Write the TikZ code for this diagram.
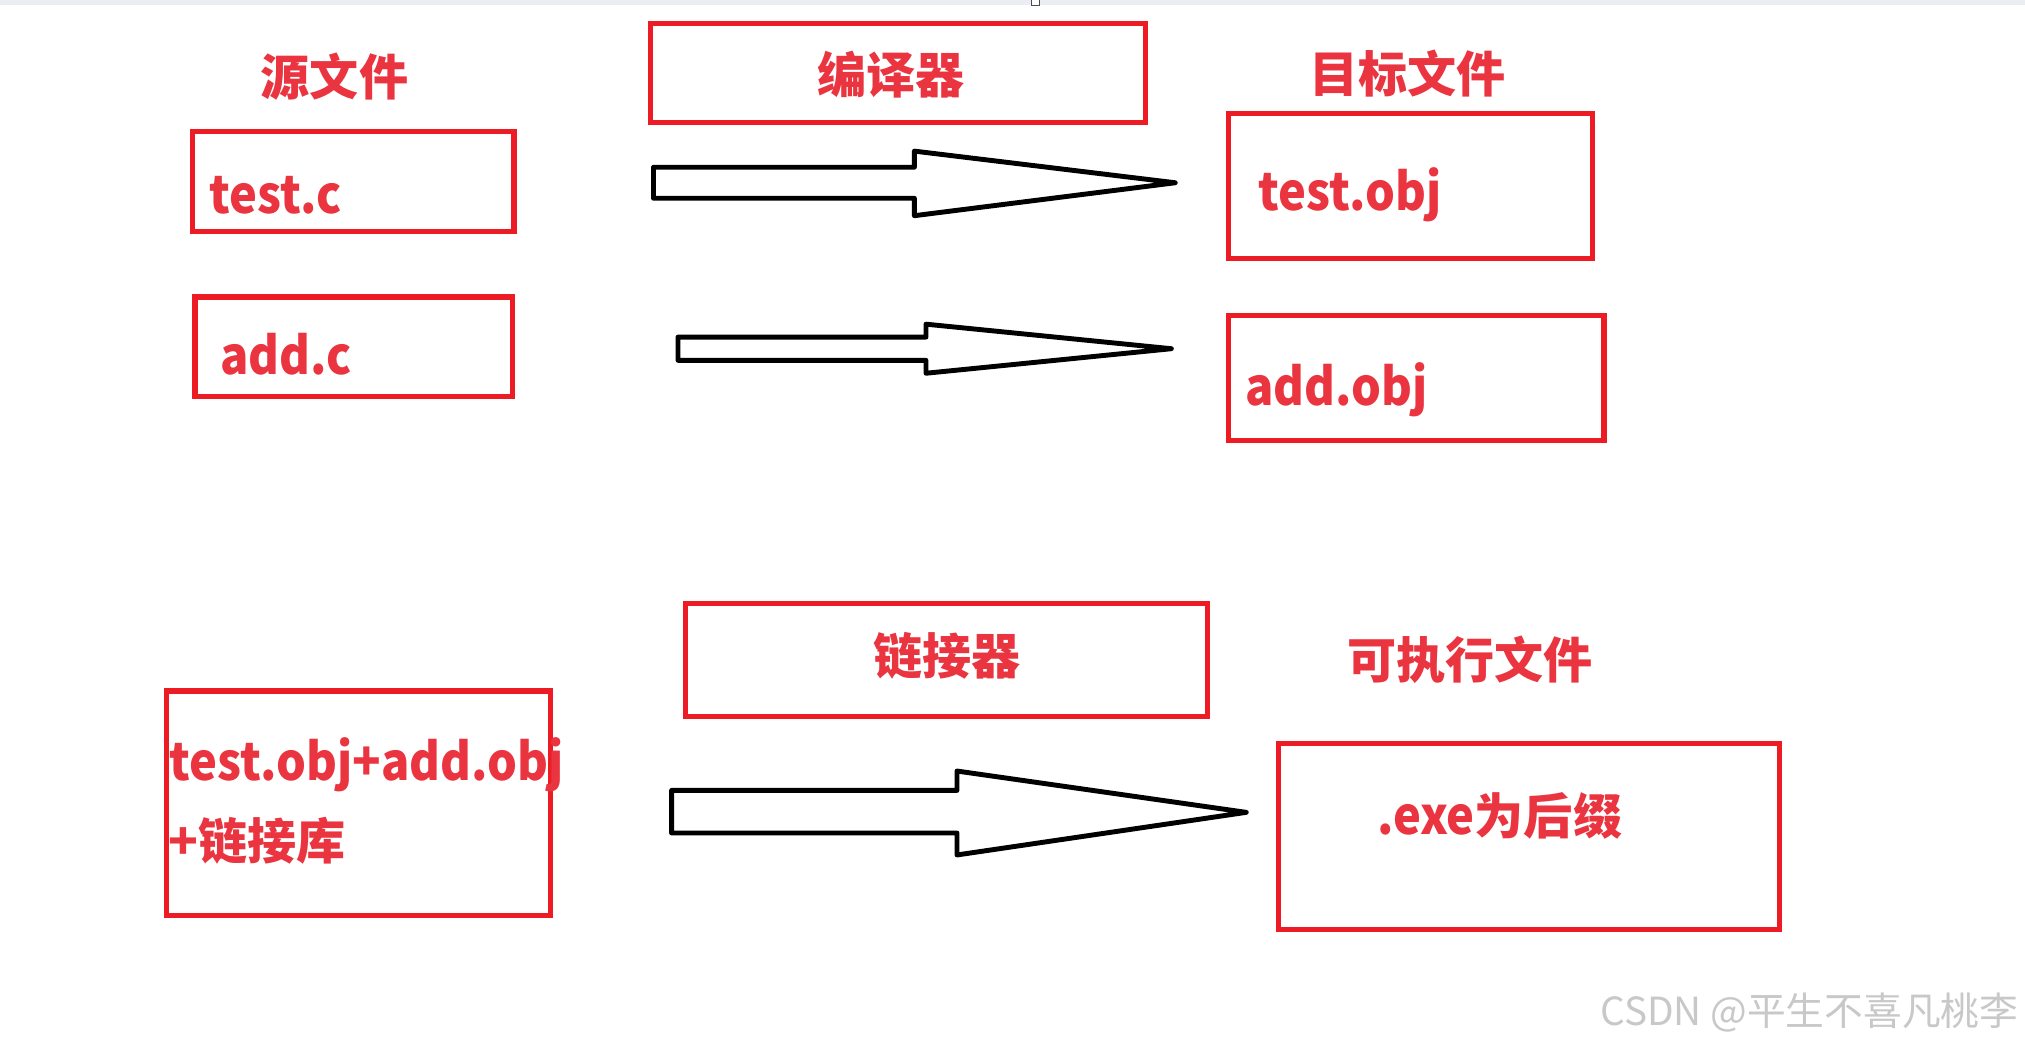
\documentclass[tikz,border=0pt]{standalone}
\usepackage{fontspec}
\setmainfont{Noto Sans CJK SC}
\newfontfamily\latn{Noto Sans CJK SC}[FakeStretch=0.91]
\usetikzlibrary{fit}
\definecolor{boxred}{RGB}{237,28,36}
\definecolor{txtred}{RGB}{234,52,64}
\definecolor{wmgray}{RGB}{200,200,200}
\definecolor{topbar}{RGB}{234,238,243}
\begin{document}
\begin{tikzpicture}[x=0.5pt,y=-0.5pt,
  rbox/.style={draw=boxred, line width=2pt, inner sep=0pt, rectangle},
  lbl/.style={text=txtred, inner sep=0pt, font=\fontsize{19}{23}\selectfont\bfseries},
  llat/.style={lbl, font=\latn\fontsize{20}{24}\selectfont\bfseries},
  blk/.style={draw=black, line width=1.9pt, line join=round, fill=white}]
\useasboundingbox (0,0) rectangle (1568,811);
\fill[white] (0,0) rectangle (1568,811);
\fill[topbar] (0,0) rectangle (1568,4);
\draw[black!70, line width=0.3pt, fill=white] (798.5,-1) rectangle (804.5,4);

% boxes
\node[rbox, fit={(504,18) (887,95)}] (comp) {};
\node[rbox, fit={(149,102) (398,179)}] (srcA) {};
\node[rbox, fit={(151,230) (397,307)}] (srcB) {};
\node[rbox, fit={(951,88) (1233,200)}] (objA) {};
\node[rbox, fit={(951,244) (1242,341)}] (objB) {};
\node[rbox, fit={(531,467) (935,555)}] (link) {};
\node[rbox, fit={(129,535) (426,709)}] (linkin) {};
\node[rbox, fit={(990,576) (1378,720)}] (exe) {};

% block arrows
\draw[blk] (506,129.5) -- (708,129.5) -- (708,117) -- (910,141.5) -- (708,167) -- (708,153.5) -- (506,153.5) -- cycle;
\draw[blk] (525,261) -- (717,261) -- (717,251) -- (907,270) -- (717,289) -- (717,279) -- (525,279) -- cycle;
\draw[blk] (520,612) -- (741,612) -- (741,597) -- (965,629) -- (741,662) -- (741,645) -- (520,645) -- cycle;

% labels
\node[lbl] (tsrc) at (259,59) {源文件};
\node[lbl] (tcomp) at (690,58) {编译器};
\node[lbl] (tobj) at (1090,57) {目标文件};
\node[llat, anchor=base west] (ltestc) at (162,165) {test.c};
\node[llat, anchor=base west] (laddc) at (170,290) {add.c};
\node[llat, anchor=base west] (ltestobj) at (974,163) {test.obj};
\node[llat, anchor=base west] (laddobj) at (964,314) {add.obj};
\node[lbl] (tlink) at (733,508) {链接器};
\node[lbl] (texe) at (1138,511) {可执行文件};
\node[llat, anchor=base west] (lsum) at (131,604) {test.obj+add.obj};
\node[lbl, anchor=west] (llib) at (130,651) {+链接库};
\node[lbl, anchor=west] (lexe) at (1066,632) {{\latn\fontsize{20}{24}\selectfont\bfseries .exe}为后缀};

\node[text=wmgray, inner sep=0pt, font=\fontsize{15}{18}\selectfont] (wm) at (1401,784) {CSDN @平生不喜凡桃李};
\end{tikzpicture}
\end{document}
